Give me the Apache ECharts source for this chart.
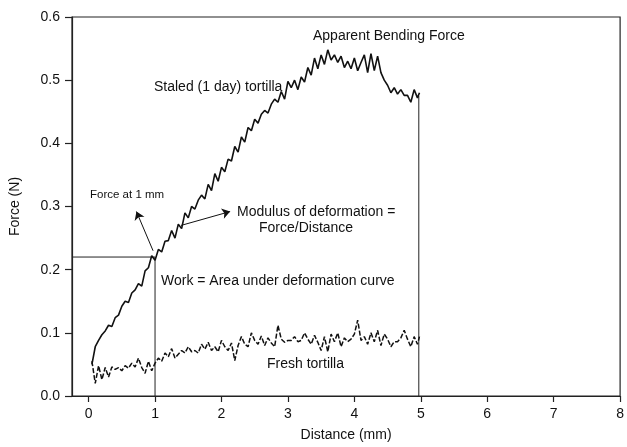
<!DOCTYPE html>
<html>
<head>
<meta charset="utf-8">
<script src="https://cdn.jsdelivr.net/npm/echarts@6.0.0/dist/echarts.min.js"></script>
<style>
  html, body { margin: 0; padding: 0; background: #fff; }
  #main { width: 627px; height: 447px; }
</style>
</head>
<body>
<div id="main"></div>
<script>
// distance (mm), shared by both curves
var distance = [
  0.05,0.10,0.15,0.20,0.25,0.30,0.35,0.40,0.45,0.50,
  0.55,0.60,0.65,0.70,0.75,0.80,0.85,0.90,0.95,1.00,
  1.05,1.10,1.15,1.20,1.25,1.30,1.35,1.40,1.45,1.50,
  1.55,1.60,1.65,1.70,1.75,1.80,1.85,1.90,1.95,2.00,
  2.05,2.10,2.15,2.20,2.25,2.30,2.35,2.40,2.45,2.50,
  2.55,2.60,2.65,2.70,2.75,2.80,2.85,2.90,2.95,3.00,
  3.05,3.10,3.15,3.20,3.25,3.30,3.35,3.40,3.45,3.50,
  3.55,3.60,3.65,3.70,3.75,3.80,3.85,3.90,3.95,4.00,
  4.05,4.10,4.15,4.20,4.25,4.30,4.35,4.40,4.45,4.50,
  4.55,4.60,4.65,4.70,4.75,4.80,4.85,4.90,4.95,4.98
];

// force (N), staled (1 day) tortilla
var staledForce = [
  0.050,0.078,0.088,0.097,0.103,0.112,0.110,0.124,0.128,0.142,
  0.150,0.148,0.163,0.168,0.178,0.174,0.198,0.203,0.222,0.215,
  0.232,0.228,0.245,0.246,0.262,0.250,0.272,0.265,0.290,0.282,
  0.300,0.296,0.310,0.318,0.312,0.335,0.325,0.352,0.340,0.362,
  0.355,0.375,0.372,0.395,0.386,0.410,0.402,0.425,0.420,0.438,
  0.432,0.446,0.452,0.448,0.462,0.470,0.465,0.482,0.470,0.498,
  0.488,0.500,0.485,0.505,0.497,0.520,0.508,0.535,0.518,0.540,
  0.525,0.548,0.532,0.540,0.528,0.538,0.520,0.530,0.518,0.535,
  0.515,0.528,0.540,0.512,0.542,0.515,0.538,0.512,0.500,0.492,
  0.480,0.488,0.478,0.485,0.476,0.476,0.465,0.485,0.472,0.480
];

// force (N), fresh tortilla
var freshForce = [
  0.055,0.020,0.048,0.026,0.045,0.030,0.046,0.042,0.045,0.040,
  0.048,0.044,0.052,0.046,0.060,0.045,0.036,0.055,0.040,0.052,
  0.060,0.055,0.068,0.062,0.075,0.060,0.066,0.072,0.068,0.078,
  0.070,0.072,0.068,0.082,0.074,0.085,0.072,0.078,0.070,0.088,
  0.078,0.072,0.084,0.056,0.080,0.094,0.082,0.078,0.100,0.088,
  0.082,0.095,0.080,0.092,0.084,0.078,0.112,0.090,0.085,0.088,
  0.088,0.094,0.086,0.088,0.100,0.090,0.082,0.096,0.085,0.072,
  0.094,0.070,0.098,0.086,0.100,0.078,0.092,0.086,0.090,0.098,
  0.120,0.088,0.094,0.082,0.100,0.086,0.104,0.080,0.098,0.090,
  0.078,0.086,0.086,0.092,0.104,0.090,0.078,0.094,0.082,0.094
];

var xTicks = [0, 1, 2, 3, 4, 5, 6, 7, 8];

// annotation values
var forceAt1mm = 0.22;
var endDistance = 4.97;
var endForce = 0.475;
var forceArrow = [[0.97, 0.23], [0.72, 0.292]];
var modulusArrow = [[1.39, 0.27], [2.13, 0.292]];

var chart = echarts.init(document.getElementById('main'));

var font = 'Arial, "Liberation Sans", Helvetica, sans-serif';

function pairs(xs, ys) {
  return xs.map(function (x, i) { return [x, ys[i]]; });
}

var option = {
  animation: false,
  backgroundColor: '#fff',
  grid: {
    left: 71,
    right: 4,
    top: 17,
    bottom: 47,
    show: true,
    borderColor: '#222',
    borderWidth: 1.2
  },
  xAxis: {
    type: 'value',
    min: -0.25,
    max: 8,
    name: 'Distance (mm)',
    nameLocation: 'middle',
    nameGap: 32,
    nameTextStyle: { color: '#111', fontSize: 14, fontFamily: font },
    axisLine: { onZero: false, lineStyle: { color: '#222', width: 1.2 } },
    axisTick: { customValues: xTicks, length: 6, lineStyle: { color: '#222', width: 1.2 } },
    axisLabel: { customValues: xTicks, margin: 11, color: '#111', fontSize: 14, fontFamily: font },
    splitLine: { show: false }
  },
  yAxis: {
    type: 'value',
    min: 0,
    max: 0.6,
    interval: 0.1,
    name: 'Force (N)',
    nameLocation: 'middle',
    nameGap: 50,
    nameTextStyle: { color: '#111', fontSize: 14, fontFamily: font },
    axisLine: { onZero: false, lineStyle: { color: '#222', width: 1.2 } },
    axisTick: { length: 7, lineStyle: { color: '#222', width: 1.2 } },
    axisLabel: {
      margin: 12, color: '#111', fontSize: 14, fontFamily: font,
      formatter: function (v) { return v.toFixed(1); }
    },
    splitLine: { show: false }
  },
  series: [
    {
      name: 'Staled (1 day) tortilla',
      type: 'line',
      data: pairs(distance, staledForce),
      showSymbol: false,
      lineStyle: { color: '#111', width: 1.6 },
      z: 3
    },
    {
      name: 'Fresh tortilla',
      type: 'line',
      data: pairs(distance, freshForce),
      showSymbol: false,
      lineStyle: { color: '#111', width: 1.5, type: [5, 2] },
      z: 3
    },
    {
      // guide lines: force at 1 mm and end of test
      type: 'lines',
      coordinateSystem: 'cartesian2d',
      polyline: true,
      silent: true,
      lineStyle: { color: '#222', width: 1, opacity: 1 },
      data: [
        { coords: [[-0.25, forceAt1mm], [1, forceAt1mm], [1, 0]] },
        { coords: [[endDistance, endForce], [endDistance, 0]] }
      ],
      z: 2
    },
    {
      // arrows
      type: 'lines',
      coordinateSystem: 'cartesian2d',
      silent: true,
      symbol: ['none', 'arrow'],
      symbolSize: [0, 8],
      lineStyle: { color: '#111', width: 1, opacity: 1 },
      data: [
        { coords: forceArrow },
        { coords: modulusArrow }
      ],
      z: 4
    }
  ],
  graphic: [
    { type: 'text', left: 313, top: 29, style: { text: 'Apparent Bending Force', fill: '#111', font: '14px ' + font } },
    { type: 'text', left: 154, top: 80, style: { text: 'Staled (1 day) tortilla', fill: '#111', font: '14px ' + font } },
    { type: 'text', left: 90, top: 189, style: { text: 'Force at 1 mm', fill: '#111', font: '11.5px ' + font } },
    { type: 'text', left: 237, top: 205, style: { text: 'Modulus of deformation =', fill: '#111', font: '14px ' + font } },
    { type: 'text', left: 259, top: 221, style: { text: 'Force/Distance', fill: '#111', font: '14px ' + font } },
    { type: 'text', left: 161, top: 274, style: { text: 'Work = Area under deformation curve', fill: '#111', font: '14px ' + font } },
    { type: 'text', left: 267, top: 357, style: { text: 'Fresh tortilla', fill: '#111', font: '14px ' + font } }
  ]
};

chart.setOption(option);
</script>
</body>
</html>
